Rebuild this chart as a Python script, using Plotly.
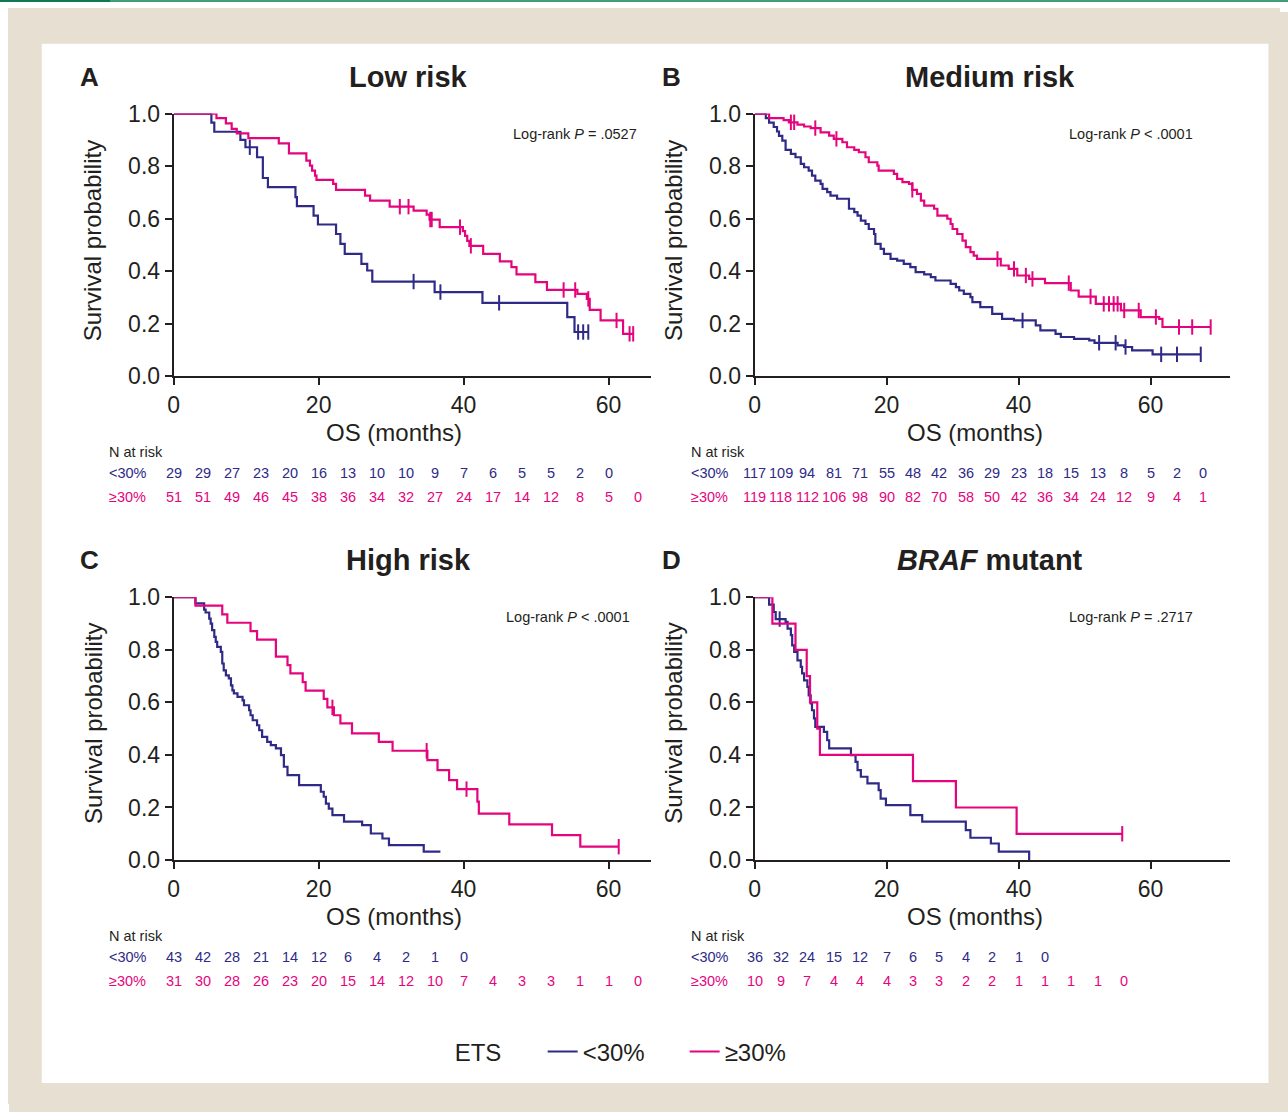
import plotly.graph_objects as go

# ---------------- DATA ----------------
# Panel A: Low risk
a_lo_t = [5.2, 5.6, 9.2, 9.9, 11.5, 12.3, 13.0, 16.8, 17.0, 19.3, 19.9, 22.4, 23.0, 23.6, 25.9, 26.7, 27.4, 36.0, 42.6, 54.3, 55.3]
a_lo_s = [0.966, 0.931, 0.900, 0.872, 0.834, 0.755, 0.720, 0.682, 0.648, 0.612, 0.578, 0.542, 0.504, 0.466, 0.428, 0.403, 0.361, 0.321, 0.280, 0.226, 0.169]
a_lo_end = 57.2
a_lo_ct = [10.5, 33.1, 36.8, 44.9, 55.8, 56.5, 57.2]
a_lo_cs = [0.872, 0.361, 0.321, 0.280, 0.169, 0.169, 0.169]

a_hi_t = [5.9, 7.2, 8.0, 8.7, 10.3, 14.5, 15.9, 18.3, 18.8, 19.1, 19.5, 19.7, 22.0, 22.4, 26.4, 27.1, 29.8, 33.1, 34.9, 35.3, 36.7, 39.9, 40.2, 40.5, 40.8, 42.7, 45.0, 46.6, 47.3, 49.9, 51.5, 55.7, 57.0, 57.4, 58.9, 62.0]
a_hi_s = [0.983, 0.963, 0.942, 0.925, 0.907, 0.887, 0.849, 0.821, 0.802, 0.783, 0.764, 0.748, 0.733, 0.710, 0.688, 0.669, 0.646, 0.631, 0.616, 0.597, 0.568, 0.553, 0.535, 0.516, 0.497, 0.466, 0.438, 0.416, 0.388, 0.359, 0.329, 0.314, 0.295, 0.253, 0.213, 0.162]
a_hi_end = 63.5
a_hi_ct = [31.2, 32.4, 35.4, 35.6, 39.5, 41.0, 53.8, 55.4, 57.2, 61.1, 62.9, 63.4]
a_hi_cs = [0.646, 0.646, 0.597, 0.597, 0.568, 0.497, 0.329, 0.329, 0.295, 0.213, 0.162, 0.162]

# Panel B: Medium risk
b_lo_t = [1.7, 2.2, 2.9, 3.4, 3.7, 4.2, 4.7, 5.5, 6.2, 7.0, 7.5, 8.2, 8.7, 9.2, 10.0, 10.3, 11.0, 11.5, 12.5, 14.3,
          15.1, 15.6, 16.1, 16.8, 17.3, 18.1, 18.3, 19.1, 19.6, 20.6, 21.6, 22.6, 23.6, 24.4, 25.7, 26.7, 27.4, 29.7,
          30.5, 31.0, 31.7, 32.7, 33.0, 34.2, 36.0, 37.5, 39.3, 42.6, 43.3, 45.6, 46.4, 48.4, 50.7, 51.5, 55.0, 56.0, 57.2, 60.3]
b_lo_s = [0.983, 0.966, 0.949, 0.932, 0.915, 0.897, 0.862, 0.847, 0.834, 0.809, 0.796, 0.783, 0.764, 0.745, 0.733, 0.714,
          0.701, 0.688, 0.676, 0.638, 0.625, 0.612, 0.593, 0.580, 0.561, 0.542, 0.504, 0.485, 0.466, 0.447, 0.441, 0.428,
          0.416, 0.397, 0.388, 0.378, 0.365, 0.352, 0.340, 0.327, 0.314, 0.302, 0.283, 0.264, 0.238, 0.219, 0.213, 0.194,
          0.175, 0.162, 0.150, 0.143, 0.137, 0.128, 0.118, 0.112, 0.099, 0.084]
b_lo_end = 67.6
b_lo_ct = [40.6, 52.2, 54.7, 56.2, 61.6, 64.0, 67.6]
b_lo_cs = [0.213, 0.128, 0.128, 0.112, 0.084, 0.084, 0.084]

b_hi_t = [2.2, 4.4, 5.2, 6.5, 7.5, 8.5, 10.0, 11.3, 12.0, 13.3, 14.0, 15.1, 15.8, 16.8, 17.3, 18.6, 18.8, 21.1, 21.6, 22.4,
          23.4, 23.9, 24.6, 25.2, 25.7, 27.2, 27.7, 29.2, 29.7, 30.0, 30.7, 31.5, 32.0, 32.7, 33.2, 33.7, 37.3, 38.5,
          39.8, 41.6, 44.0, 47.9, 49.1, 51.7, 55.5, 58.5, 61.3, 61.8]
b_hi_s = [0.983, 0.975, 0.967, 0.958, 0.951, 0.945, 0.929, 0.916, 0.904, 0.891, 0.872, 0.862, 0.853, 0.834, 0.815, 0.802,
          0.783, 0.771, 0.752, 0.739, 0.733, 0.710, 0.695, 0.669, 0.650, 0.638, 0.612, 0.600, 0.580, 0.561, 0.542, 0.517,
          0.492, 0.473, 0.460, 0.447, 0.422, 0.409, 0.384, 0.371, 0.355, 0.327, 0.304, 0.276, 0.251, 0.226, 0.219, 0.188]
b_hi_end = 69.1
b_hi_ct = [5.5, 6.0, 9.2, 12.4, 23.9, 36.8, 39.3, 41.1, 42.1, 47.6, 50.9, 52.9, 53.7, 54.4, 55.0, 56.0, 58.2, 60.8, 64.3, 66.3, 69.1]
b_hi_cs = [0.967, 0.967, 0.945, 0.904, 0.710, 0.447, 0.409, 0.384, 0.371, 0.355, 0.304, 0.276, 0.276, 0.276, 0.276, 0.251,
           0.251, 0.226, 0.188, 0.188, 0.188]

# Panel C: High risk
c_lo_t = [3.0, 4.2, 4.4, 4.9, 5.1, 5.3, 5.6, 5.8, 6.0, 6.5, 6.7, 6.9, 7.2, 7.6, 7.9, 8.1, 8.3, 8.8, 9.5, 9.7, 10.4, 10.6,
          10.9, 11.5, 11.8, 12.2, 12.9, 13.4, 14.1, 14.8, 15.2, 15.7, 17.3, 20.3, 20.7, 21.0, 21.4, 21.9, 23.5, 26.0,
          27.2, 28.8, 29.7, 34.5]
c_lo_s = [0.977, 0.953, 0.942, 0.919, 0.900, 0.875, 0.849, 0.830, 0.811, 0.792, 0.748, 0.722, 0.703, 0.691, 0.665, 0.646,
          0.634, 0.621, 0.608, 0.589, 0.570, 0.551, 0.532, 0.513, 0.494, 0.469, 0.450, 0.437, 0.425, 0.399, 0.355, 0.323,
          0.285, 0.260, 0.241, 0.215, 0.196, 0.171, 0.146, 0.133, 0.101, 0.082, 0.057, 0.032]
c_lo_end = 36.8
c_lo_ct = []
c_lo_cs = []

c_hi_t = [3.0, 6.7, 7.4, 10.6, 11.5, 14.1, 15.7, 16.1, 17.8, 18.2, 20.7, 21.2, 22.1, 23.0, 24.6, 28.3, 30.2, 35.0, 36.4,
          38.0, 39.1, 41.9, 42.1, 46.3, 52.2, 56.1]
c_hi_s = [0.968, 0.935, 0.903, 0.871, 0.839, 0.774, 0.742, 0.710, 0.677, 0.645, 0.613, 0.581, 0.551, 0.520, 0.482, 0.450,
          0.416, 0.380, 0.342, 0.304, 0.270, 0.222, 0.177, 0.136, 0.095, 0.051]
c_hi_end = 61.4
c_hi_ct = [21.9, 34.9, 40.4, 61.4]
c_hi_cs = [0.581, 0.416, 0.270, 0.051]

# Panel D: BRAF mutant
d_lo_t = [2.2, 2.9, 3.2, 4.7, 5.0, 5.5, 5.7, 6.0, 6.5, 7.0, 7.2, 7.5, 8.0, 8.2, 8.5, 8.7, 9.0, 9.2, 10.5, 11.0, 11.3,
          14.6, 15.3, 15.6, 16.1, 17.1, 18.8, 19.1, 19.9, 23.6, 25.4, 32.0, 32.7, 35.8, 37.0, 41.6]
d_lo_s = [0.972, 0.944, 0.917, 0.906, 0.881, 0.856, 0.817, 0.792, 0.760, 0.735, 0.710, 0.684, 0.659, 0.627, 0.596, 0.570,
          0.539, 0.507, 0.488, 0.456, 0.425, 0.399, 0.374, 0.342, 0.317, 0.292, 0.266, 0.234, 0.209, 0.171, 0.146, 0.114,
          0.085, 0.063, 0.032, 0.0]
d_lo_end = 41.6
d_lo_ct = [3.8]
d_lo_cs = [0.917]

d_hi_t = [2.7, 6.2, 7.9, 8.4, 9.5, 9.9, 24.0, 30.5, 39.7]
d_hi_s = [0.9, 0.8, 0.7, 0.6, 0.5, 0.4, 0.3, 0.2, 0.1]
d_hi_end = 55.7
d_hi_ct = [55.7]
d_hi_cs = [0.1]

# Numbers at risk
risk_t_A = [0, 4, 8, 12, 16, 20, 24, 28, 32, 36, 40, 44, 48, 52, 56, 60, 64]
risk_A_lo = [29, 29, 27, 23, 20, 16, 13, 10, 10, 9, 7, 6, 5, 5, 2, 0]
risk_A_hi = [51, 51, 49, 46, 45, 38, 36, 34, 32, 27, 24, 17, 14, 12, 8, 5, 0]
risk_t_B = [0, 4, 8, 12, 16, 20, 24, 28, 32, 36, 40, 44, 48, 52, 56, 60, 64, 68]
risk_B_lo = [117, 109, 94, 81, 71, 55, 48, 42, 36, 29, 23, 18, 15, 13, 8, 5, 2, 0]
risk_B_hi = [119, 118, 112, 106, 98, 90, 82, 70, 58, 50, 42, 36, 34, 24, 12, 9, 4, 1]
risk_t_C = [0, 4, 8, 12, 16, 20, 24, 28, 32, 36, 40, 44, 48, 52, 56, 60, 64]
risk_C_lo = [43, 42, 28, 21, 14, 12, 6, 4, 2, 1, 0]
risk_C_hi = [31, 30, 28, 26, 23, 20, 15, 14, 12, 10, 7, 4, 3, 3, 1, 1, 0]
risk_t_D = [0, 4, 8, 12, 16, 20, 24, 28, 32, 36, 40, 44, 48, 52, 56]
risk_D_lo = [36, 32, 24, 15, 12, 7, 6, 5, 4, 2, 1, 0]
risk_D_hi = [10, 9, 7, 4, 4, 4, 3, 3, 2, 2, 1, 1, 1, 1, 0]

titles = ["Low risk", "Medium risk", "High risk", "<i>BRAF</i> mutant"]
letters = ["A", "B", "C", "D"]
pvals = ["Log-rank <i>P</i> = .0527", "Log-rank <i>P</i> < .0001", "Log-rank <i>P</i> < .0001", "Log-rank <i>P</i> = .2717"]
group_names = ["<30%", "≥30%"]
x_ticks = [0, 20, 40, 60]
y_ticks = [0.0, 0.2, 0.4, 0.6, 0.8, 1.0]

# ---------------- STYLE / LAYOUT ----------------
# page = figure + 8px body margin, sized to the 1288x1112 window
OX, OY = 8, 8
W, H = 1272, 1096
# observed mapping from page pixels to the captured picture
AX, BX = 5.3, 0.9955
AY, BY = 12.5, 0.977
NAVY = "#2e2a86"
MAG = "#e4047e"
INK = "#231f20"
BEIGE = "#e6dfd2"
FONT = "Liberation Sans, Arial, Helvetica, sans-serif"


def px(x):
    f = (x - AX) / BX - OX
    return min(1.0, max(0.0, f / W))


def py(y):
    f = (y - AY) / BY - OY
    return min(1.0, max(0.0, 1 - f / H))


panels = [
    dict(xd=(173, 650), yd=(113, 376), xmax=65.8,
         lo=(a_lo_t, a_lo_s, a_lo_end, a_lo_ct, a_lo_cs), hi=(a_hi_t, a_hi_s, a_hi_end, a_hi_ct, a_hi_cs),
         rt=risk_t_A, rlo=risk_A_lo, rhi=risk_A_hi, left=77, tcx=408, ycx=92, ycy=240, xcx=393, pr=638),
    dict(xd=(754, 1230), yd=(113, 376), xmax=72.1,
         lo=(b_lo_t, b_lo_s, b_lo_end, b_lo_ct, b_lo_cs), hi=(b_hi_t, b_hi_s, b_hi_end, b_hi_ct, b_hi_cs),
         rt=risk_t_B, rlo=risk_B_lo, rhi=risk_B_hi, left=659, tcx=989, ycx=673, ycy=240, xcx=974, pr=1195),
    dict(xd=(173, 650), yd=(597, 860), xmax=65.8,
         lo=(c_lo_t, c_lo_s, c_lo_end, c_lo_ct, c_lo_cs), hi=(c_hi_t, c_hi_s, c_hi_end, c_hi_ct, c_hi_cs),
         rt=risk_t_C, rlo=risk_C_lo, rhi=risk_C_hi, left=77, tcx=408, ycx=92, ycy=723, xcx=393, pr=631),
    dict(xd=(754, 1230), yd=(597, 860), xmax=72.1,
         lo=(d_lo_t, d_lo_s, d_lo_end, d_lo_ct, d_lo_cs), hi=(d_hi_t, d_hi_s, d_hi_end, d_hi_ct, d_hi_cs),
         rt=risk_t_D, rlo=risk_D_lo, rhi=risk_D_hi, left=659, tcx=989, ycx=673, ycy=723, xcx=974, pr=1195),
]

fig = go.Figure()
annotations = []
layout_axes = {}

for i, p in enumerate(panels):
    n = "" if i == 0 else str(i + 1)
    xref, yref = "x" + n, "y" + n
    for g, (data, col) in enumerate([(p["lo"], NAVY), (p["hi"], MAG)]):
        t, s, end, ct, cs = data
        xs = [0] + t + [end]
        ys = [1.0] + s + [s[-1]]
        fig.add_trace(go.Scatter(
            x=xs, y=ys, mode="lines", line=dict(color=col, width=2.2, shape="hv"),
            xaxis=xref, yaxis=yref, cliponaxis=False, name=group_names[g],
            showlegend=(i == 0), legendgroup=group_names[g], hoverinfo="skip"))
        if ct:
            fig.add_trace(go.Scatter(
                x=ct, y=cs, mode="markers",
                marker=dict(symbol="line-ns-open", size=11, color=col, line=dict(color=col, width=2)),
                xaxis=xref, yaxis=yref, cliponaxis=False, showlegend=False, hoverinfo="skip"))

    y_top = p["yd"][0]
    y_bot = p["yd"][1]
    ax_common = dict(showline=True, linecolor=INK, linewidth=2, ticks="outside", ticklen=7, tickwidth=2,
                     tickcolor=INK, showgrid=False, zeroline=False,
                     tickfont=dict(family=FONT, size=23, color=INK))
    layout_axes["xaxis" + n] = dict(ax_common, domain=[px(p["xd"][0]), px(p["xd"][1])], range=[0, p["xmax"]],
                                    tickvals=x_ticks, anchor=yref)
    layout_axes["yaxis" + n] = dict(ax_common, domain=[py(y_bot), py(y_top)], range=[0, 1.0],
                                    tickvals=y_ticks, tickformat=".1f", anchor=xref)

    # panel letter and title
    annotations.append(dict(x=px(p["left"]), y=py(y_top - 37), xref="paper", yref="paper", text="<b>%s</b>" % letters[i],
                            showarrow=False, xanchor="left", yanchor="middle",
                            font=dict(family=FONT, size=26, color=INK)))
    annotations.append(dict(x=px(p["tcx"]), y=py(y_top - 37), xref="paper", yref="paper", text="<b>%s</b>" % titles[i],
                            showarrow=False, xanchor="center", yanchor="middle",
                            font=dict(family=FONT, size=29, color=INK)))
    # axis titles
    annotations.append(dict(x=px(p["ycx"]), y=py(p["ycy"]), xref="paper", yref="paper", text="Survival probability",
                            textangle=-90, showarrow=False, xanchor="center", yanchor="middle",
                            font=dict(family=FONT, size=24, color=INK)))
    annotations.append(dict(x=px(p["xcx"]), y=py(y_bot + 56), xref="paper", yref="paper", text="OS (months)",
                            showarrow=False, xanchor="center", yanchor="middle",
                            font=dict(family=FONT, size=24, color=INK)))
    # log-rank
    annotations.append(dict(x=px(p["pr"]), y=py(y_top + 20), xref="paper", yref="paper", text=pvals[i],
                            showarrow=False, xanchor="right", yanchor="middle",
                            font=dict(family=FONT, size=14.5, color=INK)))
    # risk table
    lab_x = p["left"] + 29
    annotations.append(dict(x=px(lab_x), y=py(y_bot + 76), xref="paper", yref="paper", text="N at risk",
                            showarrow=False, xanchor="left", yanchor="middle",
                            font=dict(family=FONT, size=14.5, color=INK)))
    for r, (vals, col, dy) in enumerate([(p["rlo"], NAVY, 97), (p["rhi"], MAG, 121)]):
        annotations.append(dict(x=px(lab_x), y=py(y_bot + dy), xref="paper", yref="paper", text=group_names[r],
                                showarrow=False, xanchor="left", yanchor="middle",
                                font=dict(family=FONT, size=14.5, color=col)))
        for k, v in enumerate(vals):
            annotations.append(dict(x=p["rt"][k], y=py(y_bot + dy), xref=xref, yref="paper", text=str(v),
                                    showarrow=False, xanchor="center", yanchor="middle",
                                    font=dict(family=FONT, size=14.5, color=col)))

shapes = [
    dict(type="rect", xref="paper", yref="paper", x0=px(41), x1=px(1268), y0=py(1083), y1=py(43),
         fillcolor="white", line=dict(width=0), layer="below"),
]

fig.update_layout(
    width=W, height=H, margin=dict(l=0, r=0, t=0, b=0),
    paper_bgcolor=BEIGE, plot_bgcolor="rgba(0,0,0,0)",
    font=dict(family=FONT, color=INK),
    annotations=annotations, shapes=shapes,
    showlegend=True,
    legend=dict(orientation="h", x=px(452), xanchor="left", y=py(1052), yanchor="middle",
                font=dict(family=FONT, size=24, color=INK), bgcolor="rgba(0,0,0,0)",
                title=dict(text="ETS     ", font=dict(family=FONT, size=24, color=INK), side="left"),
                itemwidth=30, entrywidth=97, entrywidthmode="pixels"),
    **layout_axes,
)

# page background around the figure: beige, with the thin green rule and white band at the very top
page_bg = (
    "document.documentElement.style.background="
    "'linear-gradient(#0d7a52,#0d7a52) 0 0/110px 2px no-repeat,"
    " linear-gradient(#3f9d79,#3f9d79) 0 0/100% 2px no-repeat,"
    " linear-gradient(#ffffff,#ffffff) 0 2px/100% 10px no-repeat,"
    " linear-gradient(#ffffff,#ffffff) 0 0/9px 100% no-repeat, #e6dfd2';"
)

fig.write_html("out.html", post_script=page_bg)
